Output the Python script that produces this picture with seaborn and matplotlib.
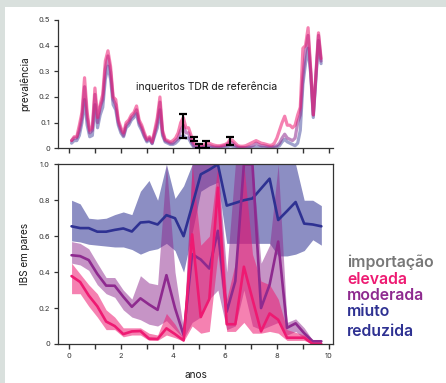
import numpy as np
import pandas as pd
import matplotlib
matplotlib.use("Agg")
import matplotlib.pyplot as plt
import seaborn as sns
from matplotlib.patches import Rectangle

# ---------------- data ----------------
# top panel: prevalence curves, sampled every 0.1 year from 0.1 to 9.7
t_top = np.round(np.arange(0.1, 9.71, 0.1), 2)
prev_elevada = [0.03, 0.045, 0.045, 0.09, 0.14, 0.275, 0.14, 0.07, 0.08, 0.235,
                0.12, 0.17, 0.21, 0.34, 0.38, 0.32, 0.20, 0.19, 0.11, 0.08,
                0.06, 0.10, 0.11, 0.13, 0.14, 0.165, 0.11, 0.09, 0.06, 0.035,
                0.045, 0.025, 0.07, 0.12, 0.20, 0.07, 0.035, 0.03, 0.025, 0.03,
                0.04, 0.06, 0.10, 0.12, 0.08, 0.08, 0.05, 0.02, 0.015, 0.015,
                0.012, 0.015, 0.02, 0.02, 0.015, 0.012, 0.01, 0.01, 0.012, 0.015,
                0.02, 0.035, 0.03, 0.02, 0.01, 0.008, 0.008, 0.01, 0.015, 0.02,
                0.025, 0.03, 0.025, 0.02, 0.018, 0.015, 0.012, 0.012, 0.02, 0.04,
                0.07, 0.10, 0.125, 0.09, 0.09, 0.08, 0.09, 0.13, 0.16, 0.39,
                0.40, 0.47, 0.31, 0.13, 0.29, 0.45, 0.35]
prev_moderada = [0.03, 0.04, 0.04, 0.07, 0.12, 0.24, 0.12, 0.06, 0.07, 0.21,
                 0.10, 0.16, 0.19, 0.31, 0.36, 0.30, 0.19, 0.17, 0.10, 0.07,
                 0.05, 0.09, 0.10, 0.12, 0.13, 0.15, 0.10, 0.08, 0.05, 0.03,
                 0.04, 0.02, 0.06, 0.10, 0.18, 0.06, 0.03, 0.025, 0.02, 0.02,
                 0.03, 0.04, 0.07, 0.09, 0.06, 0.06, 0.03, 0.01, 0.005, 0.005,
                 0.005, 0.008, 0.01, 0.01, 0.008, 0.005, 0.005, 0.005, 0.008, 0.01,
                 0.015, 0.025, 0.02, 0.01, 0.005, 0.003, 0.003, 0.003, 0.005, 0.008,
                 0.012, 0.02, 0.015, 0.01, 0.01, 0.008, 0.006, 0.005, 0.008, 0.01,
                 0.02, 0.04, 0.055, 0.04, 0.035, 0.03, 0.04, 0.10, 0.13, 0.28,
                 0.38, 0.44, 0.30, 0.13, 0.28, 0.44, 0.34]
prev_reduzida = [0.02, 0.03, 0.03, 0.05, 0.10, 0.19, 0.09, 0.045, 0.05, 0.17,
                 0.08, 0.13, 0.16, 0.27, 0.32, 0.27, 0.17, 0.15, 0.09, 0.06,
                 0.045, 0.08, 0.09, 0.11, 0.12, 0.135, 0.09, 0.07, 0.045, 0.025,
                 0.035, 0.018, 0.05, 0.08, 0.15, 0.05, 0.025, 0.02, 0.015, 0.015,
                 0.02, 0.03, 0.045, 0.05, 0.04, 0.04, 0.02, 0.005, 0.003, 0.002,
                 0.002, 0.003, 0.004, 0.004, 0.003, 0.002, 0.002, 0.002, 0.003, 0.004,
                 0.006, 0.01, 0.008, 0.004, 0.002, 0.001, 0.001, 0.001, 0.002, 0.003,
                 0.004, 0.006, 0.005, 0.004, 0.003, 0.002, 0.002, 0.002, 0.003, 0.005,
                 0.01, 0.025, 0.035, 0.025, 0.02, 0.015, 0.01, 0.02, 0.07, 0.25,
                 0.33, 0.39, 0.29, 0.12, 0.27, 0.42, 0.33]

# reference TDR surveys (error bars)
tdr_x = [4.37, 4.80, 4.99, 5.28, 6.20]
tdr_low = [0.040, 0.027, 0.001, 0.000, 0.014]
tdr_high = [0.133, 0.043, 0.018, 0.028, 0.044]

# bottom panel: pairwise IBS, 30 time bins
t_ibs = [0.10, 0.43, 0.76, 1.09, 1.43, 1.76, 2.09, 2.42, 2.75, 3.08,
         3.41, 3.75, 4.08, 4.41, 4.74, 5.07, 5.40, 5.73, 6.07, 6.40,
         6.73, 7.06, 7.39, 7.72, 8.05, 8.39, 8.72, 9.05, 9.38, 9.71]
ibs_reduzida = [0.655, 0.645, 0.645, 0.625, 0.625, 0.635, 0.643, 0.626, 0.676, 0.68,
                0.665, 0.717, 0.70, 0.60, 0.77, 0.944, 0.97, 1.0, 0.77, 0.785,
                0.80, 0.81, 0.865, 0.92, 0.69, 0.74, 0.79, 0.67, 0.665, 0.655]
ibs_reduzida_hi = [0.80, 0.78, 0.70, 0.695, 0.70, 0.72, 0.735, 0.72, 0.85, 0.91,
                   0.80, 1.0, 0.81, 0.88, 1.0, 1.0, 1.0, 1.0, 1.0, 1.0,
                   1.0, 1.0, 1.0, 1.0, 1.0, 1.0, 1.0, 0.80, 0.80, 0.77]
ibs_reduzida_lo = [0.574, 0.568, 0.555, 0.55, 0.545, 0.54, 0.54, 0.526, 0.50, 0.52,
                   0.53, 0.56, 0.52, 0.40, 0.62, 0.85, 0.88, 0.90, 0.56, 0.56,
                   0.56, 0.56, 0.56, 0.56, 0.49, 0.49, 0.50, 0.52, 0.58, 0.55]
ibs_moderada = [0.494, 0.489, 0.467, 0.39, 0.325, 0.324, 0.263, 0.207, 0.254, 0.22,
                0.19, 0.383, 0.20, 0.05, 0.50, 0.47, 0.42, 0.63, 0.18, 0.35,
                1.0, 1.0, 0.20, 0.33, 0.57, 0.09, 0.115, 0.06, 0.015, 0.015]
ibs_moderada_hi = [0.57, 0.56, 0.53, 0.45, 0.37, 0.37, 0.30, 0.25, 0.38, 0.34,
                   0.33, 1.0, 0.40, 0.08, 1.0, 1.0, 1.0, 1.0, 0.40, 1.0,
                   1.0, 1.0, 0.45, 0.55, 1.0, 0.12, 0.14, 0.09, 0.02, 0.02]
ibs_moderada_lo = [0.45, 0.44, 0.41, 0.33, 0.28, 0.26, 0.19, 0.15, 0.135, 0.11,
                   0.10, 0.13, 0.08, 0.03, 0.12, 0.15, 0.25, 0.30, 0.08, 0.10,
                   0.30, 0.10, 0.08, 0.10, 0.12, 0.05, 0.07, 0.03, 0.0, 0.0]
ibs_elevada = [0.378, 0.345, 0.27, 0.21, 0.125, 0.10, 0.055, 0.07, 0.072, 0.03,
               0.028, 0.087, 0.055, 0.02, 0.61, 0.15, 0.25, 0.87, 0.11, 0.11,
               0.43, 0.25, 0.07, 0.17, 0.135, 0.035, 0.035, 0.035, 0.0, 0.0]
ibs_elevada_hi = [0.45, 0.39, 0.33, 0.28, 0.19, 0.15, 0.09, 0.09, 0.09, 0.06,
                  0.05, 0.17, 0.11, 0.03, 1.0, 0.55, 0.60, 1.0, 0.25, 0.45,
                  1.0, 0.50, 0.35, 0.33, 0.25, 0.08, 0.065, 0.05, 0.02, 0.02]
ibs_elevada_lo = [0.28, 0.28, 0.21, 0.15, 0.08, 0.08, 0.04, 0.05, 0.05, 0.02,
                  0.02, 0.05, 0.035, 0.015, 0.10, 0.06, 0.07, 0.50, 0.07, 0.07,
                  0.12, 0.06, 0.06, 0.07, 0.06, 0.02, 0.02, 0.02, 0.0, 0.0]

legend_labels = ["importação", "elevada", "moderada", "miuto", "reduzida"]
xticks = list(range(0, 11))
xticklabels = ["0", "", "2", "", "4", "", "6", "", "8", "", "10"]
top_yticks = [0, 0.1, 0.2, 0.3, 0.4, 0.5]
top_yticklabels = ["0", "0.1", "0.2", "0.3", "0.4", "0.5"]
bot_yticks = [0, 0.2, 0.4, 0.6, 0.8, 1.0]
bot_yticklabels = ["0", "0.2", "0.4", "0.6", "0.8", "1.0"]

# ---------------- style ----------------
sns.set_style("ticks")
plt.rcParams["font.family"] = ["Inter", "DejaVu Sans"]
plt.rcParams["axes.edgecolor"] = "#333333"
plt.rcParams["xtick.color"] = "#333333"
plt.rcParams["ytick.color"] = "#333333"

PINK = "#ee1a72"
PURPLE = "#8e2a8f"
NAVY = "#2e3192"
GREY = "#787878"

W, H = 446, 383
fig = plt.figure(figsize=(W / 100, H / 100), dpi=100)
fig.patch.set_facecolor("#d9e0dd")
fig.patches.append(Rectangle((5 / W, 0), 1, 1 - 7 / H, transform=fig.transFigure,
                             facecolor="white", edgecolor="none", zorder=-10))

def fx(px):
    return px / W

def fy(py):
    return 1 - py / H

xl = (-0.41, 10.17)
ax_top = fig.add_axes([fx(58.3), fy(148.3), fx(333.3) - fx(58.3), fy(20) - fy(148.3)])
ax_bot = fig.add_axes([fx(58.3), fy(344), fx(333.3) - fx(58.3), fy(164.3) - fy(344)])
for a in (ax_top, ax_bot):
    a.set_facecolor("none")
    a.set_zorder(2)

# ---------------- top panel ----------------
top_df = pd.DataFrame({"t": t_top, "elevada": prev_elevada,
                       "moderada": prev_moderada, "reduzida": prev_reduzida})
for col, c, al in (("reduzida", NAVY, 0.45), ("moderada", PURPLE, 0.55),
                   ("elevada", PINK, 0.55)):
    sns.lineplot(data=top_df, x="t", y=col, ax=ax_top, color=c, lw=2.3,
                 alpha=al, legend=False)

tdr_mid = [(lo + hi) / 2 for lo, hi in zip(tdr_low, tdr_high)]
yerr = [[m - lo for m, lo in zip(tdr_mid, tdr_low)],
        [hi - m for m, hi in zip(tdr_mid, tdr_high)]]
ax_top.errorbar(tdr_x, tdr_mid, yerr=yerr, fmt="none", ecolor="black",
                elinewidth=1.5, capsize=2.6, capthick=1.6, zorder=5)
ax_top.text(5.3, 0.238, "inqueritos TDR de referência", ha="center", va="center",
            fontsize=7.5, color="#1a1a1a")

ax_top.set_xlim(*xl)
ax_top.set_ylim(0, 0.5)
ax_top.set_xticks(xticks)
ax_top.set_xticklabels([])
ax_top.set_yticks(top_yticks)
ax_top.set_yticklabels(top_yticklabels)
ax_top.set_xlabel("")
ax_top.set_ylabel("prevalência", fontsize=7.2, color="#1a1a1a", labelpad=6)
sns.despine(ax=ax_top)

# ---------------- bottom panel ----------------
bot_df = pd.DataFrame({"t": t_ibs, "elevada": ibs_elevada, "moderada": ibs_moderada,
                       "reduzida": ibs_reduzida})
ax_bot.fill_between(t_ibs, ibs_reduzida_lo, ibs_reduzida_hi, color=NAVY, alpha=0.55, lw=0)
ax_bot.fill_between(t_ibs, ibs_moderada_lo, ibs_moderada_hi, color=PURPLE, alpha=0.5, lw=0)
ax_bot.fill_between(t_ibs, ibs_elevada_lo, ibs_elevada_hi, color=PINK, alpha=0.55, lw=0)
for col, c in (("reduzida", NAVY), ("moderada", PURPLE), ("elevada", PINK)):
    sns.lineplot(data=bot_df, x="t", y=col, ax=ax_bot, color=c, lw=1.9,
                 legend=False)

ax_bot.set_xlim(*xl)
ax_bot.set_ylim(0, 1.0)
ax_bot.set_xticks(xticks)
ax_bot.set_xticklabels(xticklabels)
ax_bot.set_yticks(bot_yticks)
ax_bot.set_yticklabels(bot_yticklabels)
ax_bot.set_xlabel("anos", fontsize=7.2, color="#1a1a1a", labelpad=8)
ax_bot.set_ylabel("IBS em pares", fontsize=7.2, color="#1a1a1a", labelpad=6)

for a in (ax_top, ax_bot):
    a.tick_params(axis="both", direction="out", length=3, width=0.9,
                  labelsize=5.4, pad=3)
    for s in a.spines.values():
        s.set_linewidth(0.9)
ax_top.tick_params(axis="x", length=3.5, width=1.0)
ax_bot.tick_params(axis="x", length=3.5, width=1.0)

# ---------------- legend as text ----------------
leg_colors = [GREY, PINK, PURPLE, NAVY, NAVY]
leg_y = [262, 279, 296, 312, 331]
for lab, c, yy in zip(legend_labels, leg_colors, leg_y):
    fig.text(fx(347), fy(yy), lab, color=c, fontsize=11.4, fontweight="semibold",
             ha="left", va="center")

fig.savefig("out.png", dpi=100, facecolor=fig.get_facecolor())
